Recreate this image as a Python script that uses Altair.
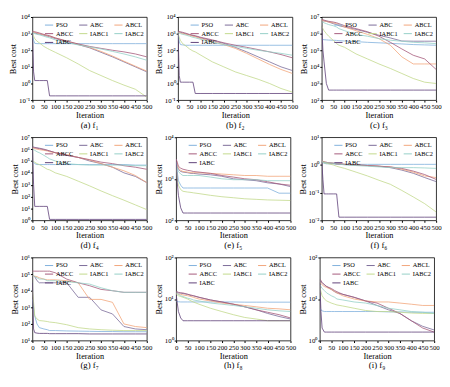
import altair as alt
import pandas as pd

ITER = [0, 5, 10, 20, 30, 50, 65, 75, 100, 150, 200, 250, 300, 350, 400, 450, 500]
SERIES = ["PSO", "ABC", "ABCL", "ABCC", "IABC1", "IABC2", "IABC"]
COLORS = ["#7fb0dc", "#7a6a98", "#f2a57a", "#a4587a", "#c2d98a", "#94cfc7", "#5e3f78"]

F1 = {
    "PSO":   [1000, 400, 260, 250, 250, 250, 250, 250, 250, 250, 250, 250, 250, 250, 250, 250, 250],
    "ABC":   [1200, 1150, 1100, 1000, 950, 800, 700, 650, 500, 330, 220, 140, 75, 40, 20, 10, 5],
    "ABCL":  [1300, 1250, 1200, 1100, 1000, 850, 750, 700, 550, 350, 230, 150, 85, 45, 22, 11, 5.5],
    "ABCC":  [1400, 1350, 1300, 1200, 1100, 900, 800, 750, 550, 360, 240, 170, 130, 100, 80, 60, 40],
    "IABC1": [1000, 700, 500, 350, 280, 170, 130, 110, 75, 35, 15, 6, 3, 1.5, 0.8, 0.45, 0.15],
    "IABC2": [1100, 1050, 1000, 900, 850, 700, 600, 560, 420, 290, 210, 160, 120, 85, 60, 40, 25],
    "IABC":  [1000, 5, 1.5, 1.5, 1.5, 1.5, 1.5, 0.18, 0.18, 0.18, 0.18, 0.18, 0.18, 0.18, 0.18, 0.18, 0.18],
}
F2 = {
    "PSO":   [1000, 350, 220, 210, 200, 200, 200, 200, 200, 200, 200, 200, 200, 200, 200, 200, 200],
    "ABC":   [1300, 1250, 1200, 1100, 1000, 850, 750, 700, 550, 380, 260, 150, 80, 40, 20, 10, 6],
    "ABCL":  [1200, 1150, 1100, 1000, 950, 800, 700, 650, 500, 330, 220, 130, 65, 30, 14, 7, 4],
    "ABCC":  [1400, 1350, 1300, 1200, 1100, 900, 800, 750, 600, 420, 280, 200, 150, 110, 80, 55, 35],
    "IABC1": [1000, 600, 400, 250, 200, 120, 90, 80, 50, 20, 10, 5, 3, 1.8, 1, 0.5, 0.3],
    "IABC2": [1100, 1050, 1000, 900, 850, 700, 600, 560, 450, 300, 220, 170, 130, 100, 80, 65, 50],
    "IABC":  [1000, 3, 1.2, 1.2, 1.2, 1.2, 1.2, 0.25, 0.25, 0.25, 0.25, 0.25, 0.25, 0.25, 0.25, 0.25, 0.25],
}
F3 = {
    "PSO":   [4.5e5, 4.4e5, 4.3e5, 4.2e5, 4.1e5, 4e5, 3.9e5, 3.8e5, 3.6e5, 3.3e5, 3e5, 2.8e5, 2.6e5, 2.4e5, 2.2e5, 2.1e5, 2e5],
    "ABC":   [6e6, 6e6, 5.8e6, 5.5e6, 5e6, 4e6, 3.5e6, 3e6, 2.5e6, 1.8e6, 1.2e6, 8e5, 5.5e5, 3.6e5, 3.5e5, 3.5e5, 3.5e5],
    "ABCL":  [6e6, 6e6, 5.8e6, 5.5e6, 5e6, 4.5e6, 4e6, 3.5e6, 2.5e6, 1.5e6, 9e5, 5e5, 2e5, 4e4, 1.5e4, 1.5e4, 1.5e4],
    "ABCC":  [7e6, 7e6, 6.5e6, 6e6, 5.5e6, 5e6, 4.5e6, 4e6, 3e6, 2e6, 1.3e6, 7e5, 3e5, 1.2e5, 5e4, 3e4, 7e3],
    "IABC1": [3e6, 2e6, 1.5e6, 1e6, 7e5, 4e5, 2.5e5, 2e5, 1.5e5, 6e4, 3e4, 1.5e4, 8e3, 4e3, 2e3, 1.2e3, 1e3],
    "IABC2": [5e6, 5e6, 4.5e6, 4e6, 3.5e6, 3e6, 2.5e6, 2e6, 1.5e6, 9e5, 7e5, 5e5, 4e5, 3.5e5, 3e5, 2.8e5, 2.5e5],
    "IABC":  [3e6, 1e5, 2e4, 1e3, 400, 400, 400, 400, 400, 400, 400, 400, 400, 400, 400, 400, 400],
}
F4 = {
    "PSO":   [1e5, 8e4, 6e4, 5e4, 5e4, 5e4, 5e4, 5e4, 5e4, 5e4, 5e4, 5e4, 5e4, 5e4, 5e4, 4.5e4, 4.5e4],
    "ABC":   [1.5e6, 1.5e6, 1.4e6, 1.3e6, 1.2e6, 1e6, 8e5, 7e5, 5e5, 3e5, 2e5, 1e5, 6e4, 3e4, 1e4, 5e3, 1.5e3],
    "ABCL":  [1.2e6, 1.2e6, 1.1e6, 1e6, 9e5, 8e5, 7e5, 6e5, 5e5, 3.5e5, 2e5, 1.2e5, 6e4, 3e4, 1.5e4, 6e3, 1.5e3],
    "ABCC":  [1.4e6, 1.4e6, 1.3e6, 1.2e6, 1.1e6, 9e5, 8e5, 7e5, 5e5, 3e5, 2e5, 1.3e5, 8e4, 6e4, 4e4, 3e4, 2e4],
    "IABC1": [1e5, 9e4, 8e4, 6e4, 5e4, 3e4, 2e4, 1.8e4, 1e4, 5e3, 2e3, 800, 300, 120, 50, 20, 8],
    "IABC2": [1e6, 9e5, 8e5, 6e5, 5e5, 3e5, 2e5, 1.5e5, 1e5, 6e4, 5e4, 4.5e4, 4.5e4, 4.5e4, 4.5e4, 4e4, 4e4],
    "IABC":  [1e6, 1e3, 15, 15, 15, 15, 15, 1.2, 1.2, 1.2, 1.2, 1.2, 1.2, 1.2, 1.2, 1.2, 1.2],
}
F5 = {
    "PSO":   [2500, 1500, 900, 700, 600, 600, 600, 600, 600, 600, 600, 600, 600, 600, 600, 450, 450],
    "ABC":   [2500, 2000, 1700, 1500, 1450, 1400, 1350, 1350, 1300, 1250, 1150, 1000, 950, 900, 800, 750, 650],
    "ABCL":  [3000, 2200, 1800, 1600, 1500, 1450, 1400, 1400, 1400, 1350, 1300, 1250, 1200, 1200, 1150, 1150, 1150],
    "ABCC":  [3000, 2500, 2000, 1800, 1700, 1600, 1550, 1500, 1450, 1350, 1200, 1100, 1000, 950, 850, 750, 700],
    "IABC1": [2000, 1000, 700, 550, 500, 480, 470, 460, 440, 400, 370, 350, 330, 320, 310, 305, 300],
    "IABC2": [2500, 1800, 1500, 1300, 1200, 1200, 1200, 1200, 1200, 1100, 1000, 950, 950, 950, 900, 900, 900],
    "IABC":  [3000, 800, 400, 200, 150, 150, 150, 150, 150, 150, 150, 150, 150, 150, 150, 150, 150],
}
F6 = {
    "PSO":   [1.3, 1.2, 1.15, 1.1, 1.1, 1.08, 1.06, 1.05, 1.05, 1.05, 1.05, 1.05, 1.05, 1.05, 1.05, 1.05, 1.05],
    "ABC":   [1.4, 1.35, 1.3, 1.25, 1.2, 1.15, 1.1, 1.1, 1.05, 1.0, 0.95, 0.9, 0.8, 0.65, 0.5, 0.35, 0.25],
    "ABCL":  [1.4, 1.35, 1.3, 1.25, 1.2, 1.15, 1.1, 1.1, 1.05, 1.0, 0.95, 0.9, 0.85, 0.7, 0.55, 0.4, 0.35],
    "ABCC":  [1.3, 1.28, 1.25, 1.2, 1.18, 1.15, 1.1, 1.08, 1.05, 1.0, 0.95, 0.9, 0.85, 0.75, 0.6, 0.45, 0.3],
    "IABC1": [1.3, 1.25, 1.2, 1.15, 1.1, 1.0, 0.9, 0.85, 0.75, 0.55, 0.4, 0.28, 0.2, 0.12, 0.07, 0.04, 0.02],
    "IABC2": [1.3, 1.28, 1.25, 1.2, 1.18, 1.15, 1.1, 1.08, 1.0, 0.95, 0.9, 0.85, 0.8, 0.8, 0.8, 0.78, 0.75],
    "IABC":  [1.3, 0.3, 0.09, 0.09, 0.09, 0.09, 0.09, 0.013, 0.013, 0.013, 0.013, 0.013, 0.013, 0.013, 0.013, 0.013, 0.013],
}
F7 = {
    "PSO":   [3e3, 1e3, 300, 100, 60, 50, 45, 40, 40, 38, 37, 36, 35, 35, 34, 34, 34],
    "ABC":   [8e4, 8e4, 7e4, 4e4, 3e4, 3e4, 3e4, 3e4, 3e4, 3e4, 4e3, 4e3, 700, 400, 70, 50, 45],
    "ABCL":  [8e4, 8e4, 7.5e4, 7e4, 6e4, 5e4, 4.5e4, 4.5e4, 4.5e4, 4e4, 3e4, 3e3, 3e3, 2e3, 100, 70, 60],
    "ABCC":  [1.5e5, 1.5e5, 1.5e5, 1.5e5, 1.5e5, 1.5e5, 1.5e5, 1.5e5, 1.2e5, 5e4, 3e4, 2e4, 1.2e4, 1e4, 8e3, 8e3, 8e3],
    "IABC1": [1e4, 2e3, 300, 200, 160, 150, 140, 130, 120, 90, 60, 50, 45, 42, 40, 40, 40],
    "IABC2": [8e4, 8e4, 7e4, 6e4, 5e4, 5e4, 4e4, 4e4, 4e4, 3.5e4, 3e4, 2.5e4, 1.5e4, 1e4, 8e3, 8e3, 8e3],
    "IABC":  [3e4, 50, 30, 28, 27, 27, 27, 26, 26, 26, 26, 25, 25, 25, 25, 25, 25],
}
F8 = {
    "PSO":   [9, 8.7, 8.6, 8.5, 8.5, 8.5, 8.5, 8.5, 8.5, 8.5, 8.5, 8.5, 8.4, 8.4, 8.4, 8.4, 8.4],
    "ABC":   [15, 14.5, 14, 14, 13.5, 13, 12, 12, 11, 9.5, 8.5, 7.5, 6.5, 5.5, 4.5, 3.8, 3.3],
    "ABCL":  [14, 13.5, 13, 13, 12.5, 12, 11.5, 11, 10, 9, 8, 7.5, 7, 6.5, 6, 5.8, 5.5],
    "ABCC":  [15, 15, 14.5, 14, 14, 13, 12.5, 12, 11, 9.5, 8.5, 7.5, 6.5, 5.5, 4.8, 4.2, 3.5],
    "IABC1": [13, 12.5, 12, 11.5, 11, 10, 9, 8.5, 7.5, 6, 5, 4.2, 3.6, 3.3, 3.0, 3.0, 3.0],
    "IABC2": [14, 13.5, 13, 12, 11.5, 10.5, 10, 9.5, 9, 8, 7.5, 7, 6.5, 6, 5.5, 5.2, 5],
    "IABC":  [13, 8, 5, 3.5, 3, 3, 3, 3, 3, 3, 3, 3, 3, 3, 3, 3, 3],
}
F9 = {
    "PSO":   [6, 5.5, 5.2, 5, 5, 5, 5, 5, 5, 5, 5, 5, 4.9, 4.9, 4.8, 4.8, 4.8],
    "ABC":   [28, 26, 25, 22, 20, 17, 15, 14, 13, 11, 9, 7, 5.5, 4.5, 3, 2.2, 1.8],
    "ABCL":  [25, 24, 22, 20, 19, 17, 15, 14, 12, 10, 9, 8.5, 8.5, 8, 7.5, 7, 7],
    "ABCC":  [30, 28, 25, 22, 20, 18, 16, 15, 13, 11, 9, 8, 6, 4.5, 3, 2, 1.6],
    "IABC1": [20, 15, 12, 10, 9, 8, 7.5, 7.2, 6.8, 6, 5.3, 5, 5, 4.8, 4.6, 4.5, 4.5],
    "IABC2": [22, 20, 18, 16, 14, 12, 11, 10, 9.5, 8.5, 8, 7, 6, 5.5, 5, 4.8, 4.5],
    "IABC":  [25, 5, 2, 1.6, 1.6, 1.6, 1.6, 1.6, 1.6, 1.6, 1.6, 1.6, 1.6, 1.6, 1.6, 1.6, 1.6],
}

CAPTIONS = ["(a) f₁", "(b) f₂", "(c) f₃", "(d) f₄", "(e) f₅", "(f) f₆", "(g) f₇", "(h) f₈", "(i) f₉"]
EXP_RANGES = [(-1, 4), (-1, 4), (2, 7), (0, 7), (2, 4), (-2, 1), (1, 6), (0, 2), (0, 2)]
PANELS = [F1, F2, F3, F4, F5, F6, F7, F8, F9]

FONT = "Liberation Serif"
W, H = 117, 85
SUP = "['⁻²','⁻¹','⁰','¹','²','³','⁴','⁵','⁶','⁷']"


def panel(data, caption, erange):
    rows = []
    for s in SERIES:
        for it, v in zip(ITER, data[s]):
            rows.append({"Iteration": it, "cost": v, "alg": s})
    df = pd.DataFrame(rows)
    lo, hi = erange
    ticks = [10.0 ** k for k in range(lo, hi + 1)]
    return alt.Chart(df).mark_line(strokeWidth=0.8, clip=True).encode(
        x=alt.X("Iteration:Q",
                scale=alt.Scale(domain=[0, 500], nice=False, zero=False),
                axis=alt.Axis(values=list(range(0, 501, 50)), title="Iteration",
                              labelOverlap=False, labelFlush=False)),
        y=alt.Y("cost:Q",
                scale=alt.Scale(type="log", domain=[10.0 ** lo, 10.0 ** hi], nice=False),
                axis=alt.Axis(values=ticks, title="Best cost",
                              labelExpr="'10' + " + SUP + "[round(log(datum.value)/LN10)+2]")),
        color=alt.Color("alg:N", scale=alt.Scale(domain=SERIES, range=COLORS),
                        legend=alt.Legend(orient="top-right", columns=3, title=None,
                                          direction="horizontal",
                                          symbolType="stroke", symbolSize=70,
                                          symbolStrokeWidth=1, labelFont=FONT,
                                          labelFontSize=6.5, columnPadding=3,
                                          rowPadding=-1, padding=1, offset=2,
                                          labelOffset=2, symbolOffset=0)),
        order=alt.Order("Iteration:Q"),
    ).properties(width=W, height=H,
                 title=alt.TitleParams(caption, orient="bottom", font=FONT,
                                       fontSize=9, fontWeight="normal", offset=2))


charts = [panel(d, c, e) for d, c, e in zip(PANELS, CAPTIONS, EXP_RANGES)]
rows = [alt.hconcat(*charts[i:i + 3], spacing=1).resolve_legend(color="independent")
        for i in range(0, 9, 3)]
chart = alt.vconcat(*rows, spacing=2).resolve_legend(color="independent").configure(
    font=FONT, padding=0
).configure_view(stroke="black", strokeWidth=0.8).configure_axis(
    domain=False, grid=False, tickSize=2, tickColor="black",
    labelFont=FONT, labelFontSize=7, labelColor="black", labelPadding=1,
    titleFont=FONT, titleFontSize=8.5, titleFontWeight="normal", titleColor="black",
    titlePadding=1
)

chart.save("out.html", embed_options={"renderer": "svg", "actions": False})
